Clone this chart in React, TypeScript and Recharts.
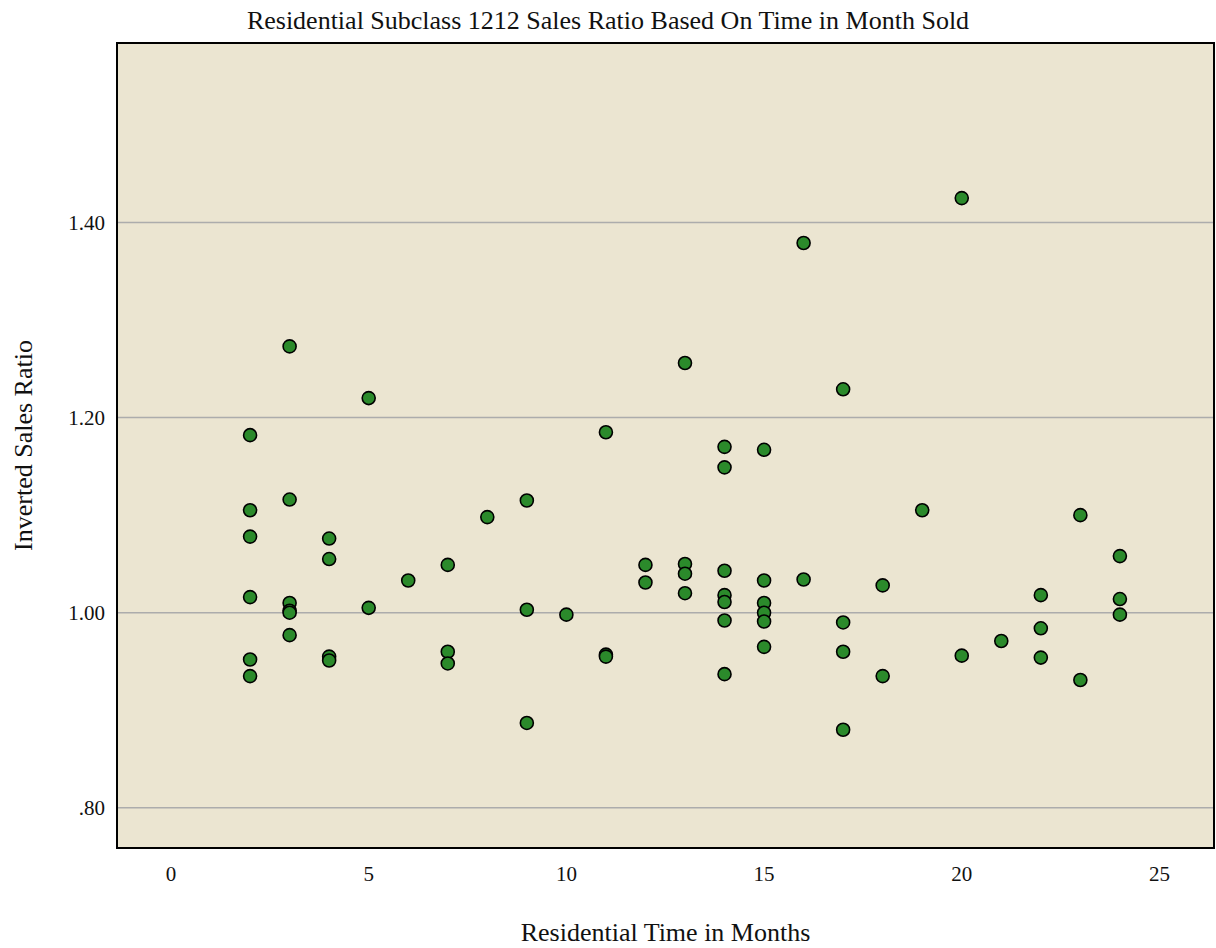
import React from 'react';
import { ScatterChart, Scatter, XAxis, YAxis, CartesianGrid, Label, ReferenceArea } from 'recharts';

// months sold and matching inverted sales ratios (one entry per sale)
const MONTHS = [
  2, 2, 2, 2, 2, 2,
  3, 3, 3, 3, 3, 3,
  4, 4, 4, 4,
  5, 5,
  6,
  7, 7, 7,
  8,
  9, 9, 9,
  10,
  11, 11, 11,
  12, 12,
  13, 13, 13, 13,
  14, 14, 14, 14, 14, 14, 14,
  15, 15, 15, 15, 15, 15,
  16, 16,
  17, 17, 17, 17,
  18, 18,
  19,
  20, 20,
  21,
  22, 22, 22,
  23, 23,
  24, 24, 24,
];
const RATIOS = [
  1.182, 1.105, 1.078, 1.016, 0.952, 0.935,
  1.273, 1.116, 1.010, 1.002, 1.000, 0.977,
  1.076, 1.055, 0.955, 0.951,
  1.220, 1.005,
  1.033,
  1.049, 0.960, 0.948,
  1.098,
  1.115, 1.003, 0.887,
  0.998,
  1.185, 0.957, 0.955,
  1.049, 1.031,
  1.256, 1.050, 1.040, 1.020,
  1.170, 1.149, 1.043, 1.018, 1.011, 0.992, 0.937,
  1.167, 1.033, 1.010, 1.000, 0.991, 0.965,
  1.379, 1.034,
  1.229, 0.990, 0.960, 0.880,
  1.028, 0.935,
  1.105,
  1.425, 0.956,
  0.971,
  1.018, 0.984, 0.954,
  1.100, 0.931,
  1.058, 1.014, 0.998,
];
const X_TICKS = [0, 5, 10, 15, 20, 25];
const Y_TICKS = [0.8, 1.0, 1.2, 1.4];
const X_DOMAIN = [-1.366, 26.38];
const Y_DOMAIN = [0.7588, 1.584];

const data = MONTHS.map((m, i) => ({ month: m, ratio: RATIOS[i] }));

const FONT = '"Liberation Serif", serif';
const TEXT = '#111';

const fmtY = (v: number) => (v < 1 ? v.toFixed(2).replace(/^0/, '') : v.toFixed(2));

const Dot = (props: any) => (
  <circle cx={props.cx} cy={props.cy} r={6.5} fill="#2b8a2b" stroke="#000" strokeWidth={1.6} />
);

const YTitle = ({ viewBox }: any) => {
  const cy = viewBox.y + viewBox.height / 2;
  const x = 23;
  return (
    <text x={x} y={cy} transform={`rotate(-90, ${x}, ${cy})`} textAnchor="middle"
      dominantBaseline="central" fontFamily={FONT} fontSize={26} fill={TEXT}>
      Inverted Sales Ratio
    </text>
  );
};

export default function App() {
  return (
    <div style={{ position: 'absolute', left: 0, top: 0, width: 1216, height: 948, background: '#fff' }}>
      <div style={{ position: 'absolute', left: 0, top: 6, width: 1216, textAlign: 'center',
        fontFamily: FONT, fontSize: 26, color: TEXT, lineHeight: '30px' }}>
        Residential Subclass 1212 Sales Ratio Based On Time in Month Sold
      </div>
      <ScatterChart width={1216} height={948} margin={{ top: 43, right: 2, bottom: 0, left: 0 }}>
        <CartesianGrid vertical={false} horizontalValues={Y_TICKS} stroke="#acacac" strokeWidth={1.5}
          fill="#ebe5d1" fillOpacity={1} />
        <XAxis type="number" dataKey="month" domain={X_DOMAIN} ticks={X_TICKS}
          allowDataOverflow height={100} tickLine={false} tickSize={0} tickMargin={18}
          axisLine={{ stroke: '#000', strokeWidth: 2 }}
          tick={{ fontFamily: FONT, fontSize: 21, fill: TEXT }}>
          <Label value="Residential Time in Months" position="insideBottom" offset={7}
            style={{ fontFamily: FONT, fontSize: 26, fill: TEXT }} />
        </XAxis>
        <YAxis type="number" dataKey="ratio" domain={Y_DOMAIN} ticks={Y_TICKS}
          allowDataOverflow width={117} tickLine={false} tickSize={0} tickMargin={12}
          tickFormatter={fmtY} axisLine={{ stroke: '#000', strokeWidth: 2 }}
          tick={{ fontFamily: FONT, fontSize: 21, fill: TEXT }}>
          <Label content={<YTitle />} />
        </YAxis>
        <ReferenceArea x1={X_DOMAIN[0]} x2={X_DOMAIN[1]} y1={Y_DOMAIN[0]} y2={Y_DOMAIN[1]}
          fill="none" stroke="#000" strokeWidth={2} ifOverflow="visible" />
        <Scatter data={data} shape={<Dot />} isAnimationActive={false} />
      </ScatterChart>
    </div>
  );
}
